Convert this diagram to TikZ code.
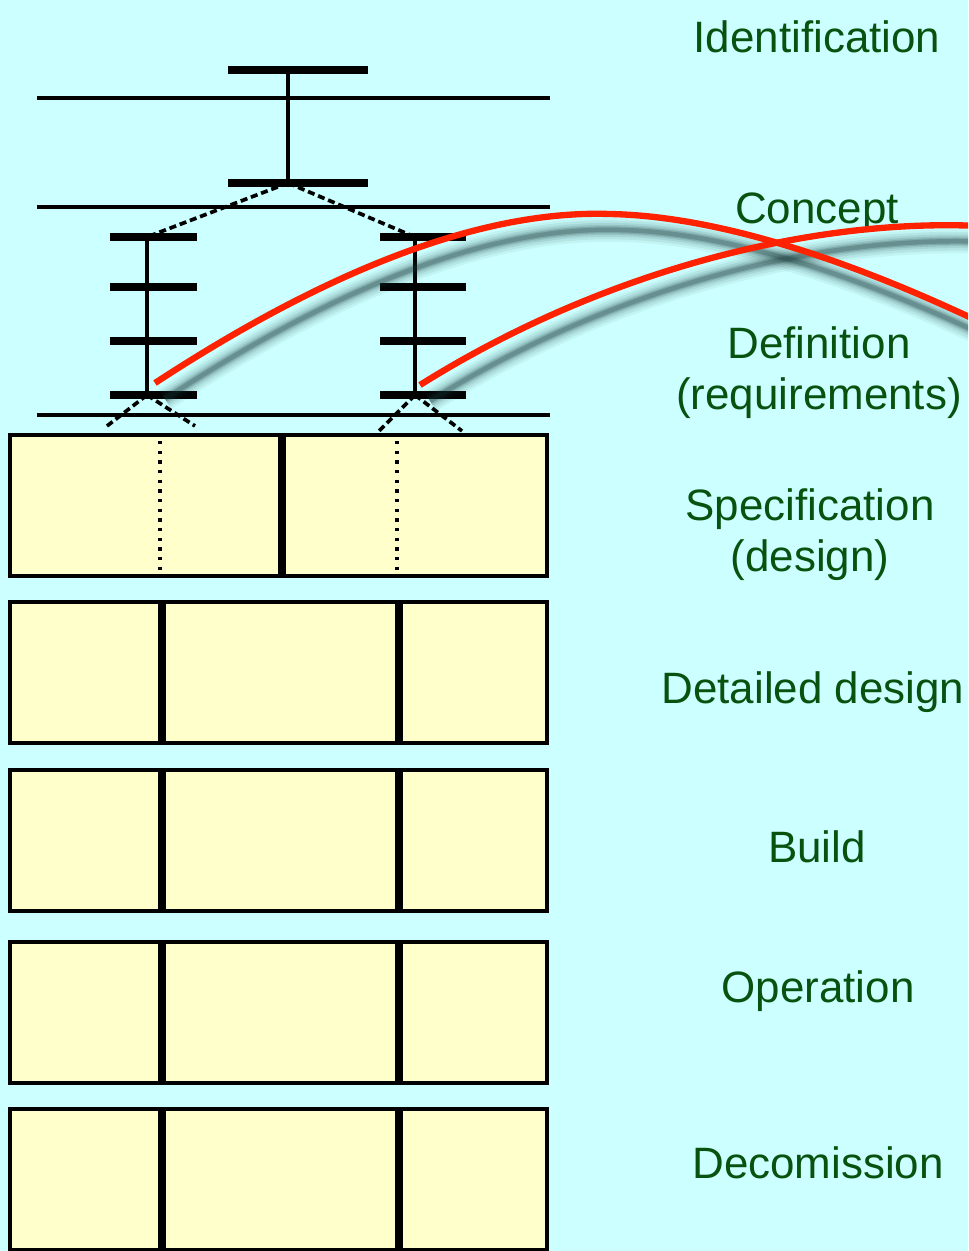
\documentclass[tikz,border=0pt]{standalone}
\usepackage{fontspec}
\setmainfont{Liberation Sans}
\usetikzlibrary{positioning}
\definecolor{skybg}{RGB}{204,255,255}
\definecolor{paper}{RGB}{255,255,204}
\definecolor{phasegreen}{RGB}{8,82,16}
\definecolor{linkred}{RGB}{255,34,0}
\definecolor{shadowgray}{RGB}{20,50,50}

\begin{document}
\begin{tikzpicture}
            [
            x=0.02cm, y=-0.02cm,
            phase/.style={
                text=phasegreen,
                font=\fontsize{25}{28.5}\selectfont,
                align=center,
                inner sep=0pt
            },
            rule/.style={
                line width=2.1pt
            },
            bar/.style={
                line width=4.6pt
            },
            stem/.style={
                line width=2pt
            },
            dashlink/.style={
                line width=2.1pt,
                dash pattern=on 4pt off 2.2pt
            },
            panel/.style={
                draw,
                fill=paper,
                line width=2.2pt
            },
            divider/.style={
                line width=4pt
            },
            hidden/.style={
                line width=1.9pt,
                dash pattern=on 1.9pt off 3.6pt
            },
            curve/.style={
                linkred,
                line width=3.6pt
            },
            blurline/.style={
                draw=shadowgray
            }
            ]
            % page and frame
            \fill[skybg] (0,0) rectangle (968,1251);
            \useasboundingbox (0,0) rectangle (968,1251);
            \clip (0,0) rectangle (968,1251);

            % phase boundaries of the breakdown tree
            \foreach \y in {98, 207, 415}
                \draw[rule] (37,\y) -- (550,\y);

            % tree junctions
            \coordinate (ident) at (288,70);
            \coordinate (conc) at (288,183);
            \coordinate (l1) at (147,237);
            \coordinate (l2) at (147,287);
            \coordinate (l3) at (147,341);
            \coordinate (l4) at (147,395);
            \coordinate (r1) at (415,237);
            \coordinate (r2) at (415,287);
            \coordinate (r3) at (415,341);
            \coordinate (r4) at (415,395);
            \coordinate (l4a) at (107,426);
            \coordinate (l4b) at (195,426);
            \coordinate (r4a) at (379,431);
            \coordinate (r4b) at (462,431);

            % dashed branches
            \draw[dashlink] (conc) -- (l1);
            \draw[dashlink] (conc) -- (r1);
            \draw[dashlink] (l4) -- (l4a);
            \draw[dashlink] (l4) -- (l4b);
            \draw[dashlink] (r4) -- (r4a);
            \draw[dashlink] (r4) -- (r4b);

            % stems
            \draw[stem] (ident) -- (conc);
            \draw[stem] (l1) -- (l4);
            \draw[stem] (r1) -- (r4);

            % bars
            \foreach \b in {ident, conc}
                \draw[bar] (\b) ++(-60,0) -- ++(140,0);
            \foreach \b in {l1, l2, l3, l4}
                \draw[bar] (\b) ++(-37,0) -- ++(87,0);
            \foreach \b in {r1, r2, r3, r4}
                \draw[bar] (\b) ++(-35,0) -- ++(86,0);

            % specification row, split in two
            \draw[panel] (10,435) rectangle (547,576);
            \draw[divider] (282,435) -- (282,576);
            \draw[hidden] (160,441) -- (160,573);
            \draw[hidden] (397,441) -- (397,573);

            % lower rows, split in three
            \foreach \t in {602, 770, 942, 1109} {
                \draw[panel] (10,\t) rectangle (547,\t+141);
                \draw[divider] (162,\t) -- (162,\t+141);
                \draw[divider] (399,\t) -- (399,\t+141);
            }

            % phase names
            \node[phase, anchor=base] (identification) at (817,52) {Identification};
            \node[phase, anchor=base] (concept) at (817,223) {Concept};
            \node[phase, anchor=base] (definition) at (819,409) {Definition\\(requirements)};
            \node[phase, anchor=base] (specification) at (810,571) {Specification\\(design)};
            \node[phase, anchor=base] (detailed) at (813,703) {Detailed design};
            \node[phase, anchor=base] (build) at (817,862) {Build};
            \node[phase, anchor=base] (operation) at (818,1002) {Operation};
            \node[phase, anchor=base] (decomission) at (818,1178) {Decomission};

            % soft shadow under the red curves
            \foreach \w/\o in {24/0.05, 19/0.07, 14/0.09, 10/0.12, 7/0.16, 4.5/0.22} {
                \draw[blurline, line width=\w*0.567pt, opacity=\o, shift={(10,16)}]
                    (155,383) .. controls (340,262) and (490,210) .. (610,214)
                    .. controls (715,216) and (845,258) .. (980,322);
                \draw[blurline, line width=\w*0.567pt, opacity=\o, shift={(10,16)}]
                    (420,385) .. controls (600,272) and (810,218) .. (980,226);
            }

            % red curves
            \draw[curve] (155,383) .. controls (340,262) and (490,210) .. (610,214)
                .. controls (715,216) and (845,258) .. (980,322);
            \draw[curve] (420,385) .. controls (600,272) and (810,218) .. (980,226);

        \end{tikzpicture}
\end{document}
